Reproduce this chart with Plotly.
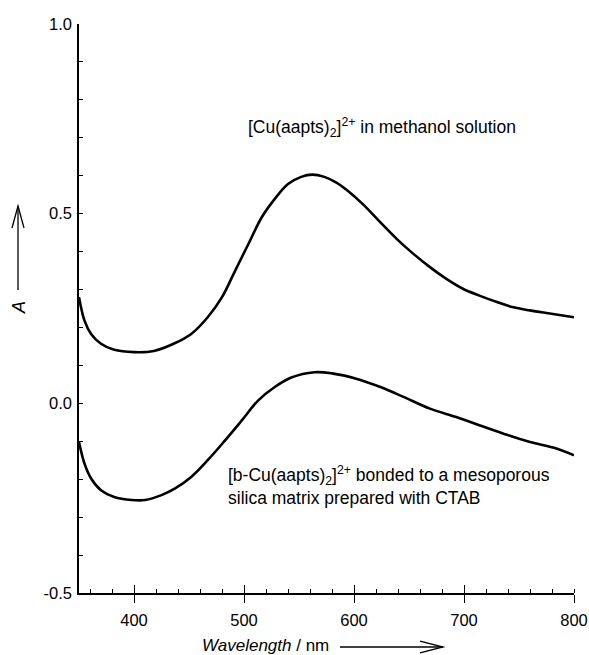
import plotly.graph_objects as go

# methanol solution spectrum
wl_solution = [350, 355, 361, 370, 382, 400, 418, 436, 452, 467, 480, 492, 504, 516,
               528, 540, 552, 562, 573, 584, 594, 608, 624, 639, 654, 669, 684, 699,
               714, 730, 745, 760, 775, 800]
a_solution = [0.280, 0.218, 0.183, 0.157, 0.141, 0.135, 0.138, 0.157, 0.183, 0.227,
              0.280, 0.350, 0.420, 0.490, 0.539, 0.578, 0.597, 0.603, 0.597, 0.582,
              0.561, 0.525, 0.477, 0.433, 0.394, 0.359, 0.328, 0.302, 0.284, 0.267,
              0.253, 0.245, 0.238, 0.227]

# bonded to mesoporous silica
wl_silica = [350, 355, 361, 370, 382, 398, 410, 425, 437, 452, 467, 483, 498, 513,
             528, 543, 564, 580, 602, 624, 645, 669, 693, 714, 736, 760, 784, 800]
a_silica = [-0.102, -0.159, -0.198, -0.229, -0.247, -0.255, -0.255, -0.242, -0.225,
            -0.194, -0.150, -0.097, -0.045, 0.008, 0.043, 0.068, 0.082, 0.079, 0.065,
            0.043, 0.017, -0.014, -0.036, -0.058, -0.080, -0.102, -0.119, -0.137]

x_ticks = [400, 500, 600, 700, 800]
y_ticks = [-0.5, 0.0, 0.5, 1.0]
y_ticktext = ["-0.5", "0.0", "0.5", "1.0"]

FONT = "Liberation Sans, Arial, sans-serif"
INK = "#000000"

W, H = 589, 655
L, R, T, B = 79, 15, 24, 62
PW, PH = W - L - R, H - T - B


def px(x, y):
    """pixel position -> paper coordinates"""
    return (x - L) / PW, (H - B - y) / PH


fig = go.Figure()

for wl, a in [(wl_solution, a_solution), (wl_silica, a_silica)]:
    fig.add_trace(go.Scatter(
        x=wl, y=a, mode="lines",
        line=dict(color=INK, width=2.6, shape="spline", smoothing=1.0),
        showlegend=False, hoverinfo="skip",
    ))

# dummy trace on overlay axis so major x ticks cross the axis line
fig.add_trace(go.Scatter(x=[350, 800], y=[0, 0], xaxis="x2", mode="lines",
                         line=dict(width=0), showlegend=False, hoverinfo="skip"))

fig.update_layout(
    width=W, height=H,
    paper_bgcolor="white", plot_bgcolor="white",
    font=dict(family=FONT, color=INK, size=16),
    margin=dict(l=L, r=R, t=T, b=B, autoexpand=False),
    xaxis=dict(
        range=[350, 800], showgrid=False, zeroline=False, automargin=False,
        showline=True, linecolor=INK, linewidth=1.5,
        tickvals=x_ticks, ticks="outside", ticklen=8, tickwidth=1.2, tickcolor=INK,
        ticklabelstandoff=3, tickfont=dict(size=16.5),
        minor=dict(dtick=20, tick0=0, ticks="inside", ticklen=4, tickwidth=1, tickcolor=INK),
    ),
    xaxis2=dict(
        range=[350, 800], overlaying="x", anchor="y", side="bottom", automargin=False,
        showgrid=False, zeroline=False, showline=False, showticklabels=False,
        tickvals=x_ticks, ticks="inside", ticklen=8, tickwidth=1.2, tickcolor=INK,
    ),
    yaxis=dict(
        range=[-0.5, 1.0], showgrid=False, zeroline=False, automargin=False,
        showline=True, linecolor=INK, linewidth=1.5,
        tickvals=y_ticks, ticktext=y_ticktext,
        ticks="inside", ticklen=4, tickwidth=1, tickcolor=INK,
        ticklabelstandoff=2, tickfont=dict(size=16.5),
        minor=dict(dtick=0.1, tick0=0, ticks="inside", ticklen=4, tickwidth=1, tickcolor=INK),
    ),
)

# curve labels
LBL = 17.5
fig.add_annotation(x=501.8, y=0.726, xref="x", yref="y", xanchor="left", yanchor="middle",
                   text="[Cu(aapts)<sub>2</sub>]<sup>2+</sup> in methanol solution",
                   showarrow=False, font=dict(size=LBL))
fig.add_annotation(x=483.6, y=-0.189, xref="x", yref="y", xanchor="left", yanchor="middle",
                   text="[b-Cu(aapts)<sub>2</sub>]<sup>2+</sup> bonded to a mesoporous",
                   showarrow=False, font=dict(size=LBL))
fig.add_annotation(x=483.6, y=-0.25, xref="x", yref="y", xanchor="left", yanchor="middle",
                   text="silica matrix prepared with CTAB",
                   showarrow=False, font=dict(size=LBL))

# axis titles
ax, ay = px(19, 308)
fig.add_annotation(x=ax, y=ay, xref="paper", yref="paper", xanchor="center", yanchor="middle",
                   text="<i>A</i>", textangle=-90, showarrow=False, font=dict(size=18))
tx, ty = px(200, 645)
fig.add_annotation(x=tx, y=ty, xref="paper", yref="paper", xanchor="left", yanchor="middle",
                   text="<i>Wavelength</i> / nm", showarrow=False, font=dict(size=17))

# open arrows next to the axis titles
def arrow(points, head):
    (x0, y0), (x1, y1) = [px(*p) for p in points]
    fig.add_shape(type="line", xref="paper", yref="paper", x0=x0, y0=y0, x1=x1, y1=y1,
                  line=dict(color=INK, width=1.3))
    path = "M " + " L ".join("{:.4f},{:.4f}".format(*px(*p)) for p in head)
    fig.add_shape(type="path", xref="paper", yref="paper", path=path,
                  line=dict(color=INK, width=1.3))

arrow([(18, 290), (18, 206)], [(12, 228), (18, 206), (24, 228)])
arrow([(340, 647), (443, 647)], [(420, 641), (443, 647), (420, 653)])

# drop the default 8px body margin so the figure fills the window exactly
fig.write_html("out.html", config={"displayModeBar": False},
               post_script="document.body.style.margin='0px';"
               "document.body.style.overflow='hidden';")
